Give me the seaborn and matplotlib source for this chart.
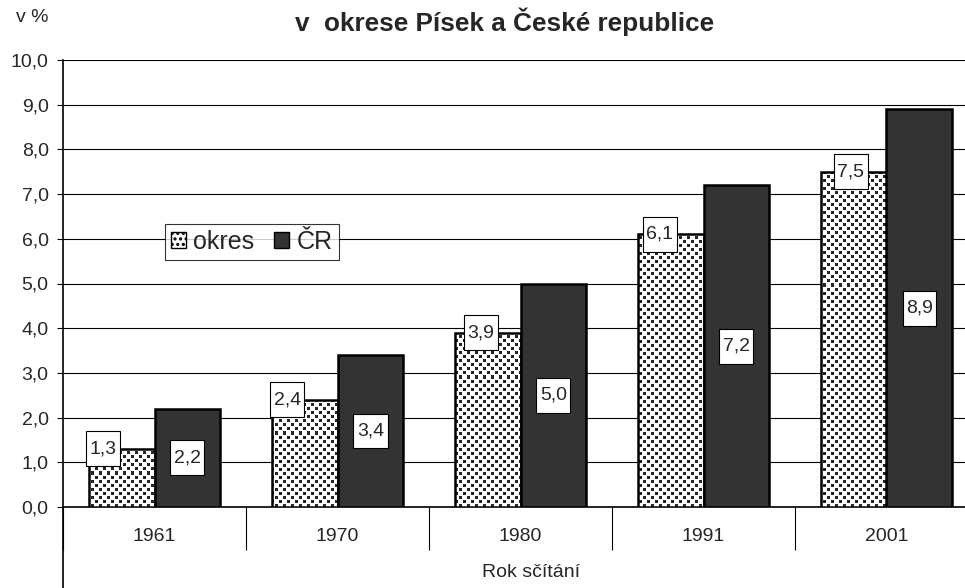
import numpy as np
import pandas as pd
import matplotlib
matplotlib.use('Agg')
import matplotlib.pyplot as plt
import seaborn as sns
from matplotlib.lines import Line2D
from matplotlib.path import Path
from matplotlib.colors import ListedColormap

# data
roky = ['1961', '1970', '1980', '1991', '2001']
okres = [1.3, 2.4, 3.9, 6.1, 7.5]
cr = [2.2, 3.4, 5.0, 7.2, 8.9]
serie = ['okres', 'ČR']
yticks = [0, 1, 2, 3, 4, 5, 6, 7, 8, 9, 10]

# where the district labels sit, measured from the left edge of the bar (in category units)
posun = [0.08, 0.085, 0.145, 0.12, 0.165]

dados = pd.DataFrame({
    'rok': roky * 2,
    'podil': okres + cr,
    'uzemi': [serie[0]] * len(roky) + [serie[1]] * len(roky),
})


# label box: narrow on the sides, taller top and bottom
def ramecek(x0, y0, width, height, mutation_size):
    px = 0.18 * mutation_size
    py = 0.46 * mutation_size
    x0, y0 = x0 - px, y0 - py
    x1, y1 = x0 + width + 2 * px, y0 + height + 2 * py
    return Path([(x0, y0), (x1, y0), (x1, y1), (x0, y1), (x0, y0)], closed=True)


sns.set_style('white')
plt.rcParams['font.family'] = ['Liberation Sans', 'DejaVu Sans']
plt.rcParams['hatch.color'] = '#2b2b2b'
plt.rcParams['hatch.linewidth'] = 1.5

fig = plt.figure(figsize=(9.65, 5.88), dpi=100)
ax = fig.add_axes([63 / 965, 81 / 588, 915 / 965, 447 / 588])

sns.barplot(data=dados, x='rok', y='podil', hue='uzemi', order=roky, hue_order=serie,
            palette=['white', '#333333'], width=0.72, gap=0, edgecolor='black',
            linewidth=1.8, saturation=1, legend=False, ax=ax, zorder=3)

# dotted texture for the district bars (small dark squares, staggered)
dlazdice = np.ones((8, 8))
dlazdice[0:3, 0:3] = 0
dlazdice[4:7, 4:7] = 0
textura = np.tile(dlazdice, (447 // 8 + 1, 915 // 8 + 1))[:447, :915]
for p in ax.containers[0]:
    p.set_facecolor('none')
    im = ax.imshow(textura, cmap=ListedColormap(['#262626', 'white']), vmin=0, vmax=1,
                   extent=(-0.5, 4.5, 0, 10), aspect='auto', interpolation='nearest', zorder=2.9)
    im.set_clip_path(p)

# value labels
box = dict(boxstyle=ramecek, fc='white', ec='black', lw=0.8)
for p, v, d in zip(ax.containers[0], okres, posun):
    ax.text(p.get_x() + d, v, f'{v:.1f}'.replace('.', ','), ha='center', va='center',
            fontsize=14, bbox=box, zorder=5)
for p, v in zip(ax.containers[1], cr):
    ax.text(p.get_x() + p.get_width() / 2, v / 2, f'{v:.1f}'.replace('.', ','),
            ha='center', va='center', fontsize=14, bbox=box, zorder=5)

# axes
ax.set_ylim(0, 10)
ax.set_xlim(-0.5, 4.5)
ax.set_yticks(yticks)
ax.set_yticklabels([f'{t:.1f}'.replace('.', ',') for t in yticks], fontsize=14)
ax.yaxis.grid(True, color='black', lw=0.8, zorder=0)
ax.set_axisbelow(True)
ax.tick_params(axis='y', length=4.3, width=0.8, color='black', direction='out', left=True, pad=6)
ax.set_xticks(range(len(roky)))
ax.set_xticklabels(roky, fontsize=14)
ax.set_xticks([i - 0.5 for i in range(len(roky) + 1)], minor=True)
ax.tick_params(axis='x', which='major', length=0, pad=15)
ax.tick_params(axis='x', which='minor', length=31, width=0.8, color='black', direction='out', bottom=True)
for s in ['top', 'right']:
    ax.spines[s].set_visible(False)
for s in ['left', 'bottom']:
    ax.spines[s].set_color('black')
    ax.spines[s].set_linewidth(1.2)
ax.add_line(Line2D([0, 0], [0, -0.2], transform=ax.transAxes, color='black', lw=1.2, clip_on=False))

ax.set_xlabel('Rok sčítání', fontsize=14)
ax.xaxis.set_label_coords(0.512, -0.128)
ax.set_ylabel('')

# legend
handles = [plt.Rectangle((0, 0), 1, 1, fc='white', ec='black', hatch='...'),
           plt.Rectangle((0, 0), 1, 1, fc='#333333', ec='black')]
leg = ax.legend(handles, serie, ncol=2, loc='center left', bbox_to_anchor=(0.111, 0.593),
                fontsize=18, frameon=True, fancybox=False, edgecolor='black',
                handlelength=0.6, handleheight=0.6, handletextpad=0.3, columnspacing=0.8,
                borderpad=0.25, borderaxespad=0)
leg.get_frame().set_linewidth(0.8)
leg.set_zorder(6)

fig.text(32 / 965, 1 - 17 / 588, 'v %', fontsize=14, ha='center', va='center')
fig.text(505 / 965, 1 - 22 / 588, 'v  okrese Písek a České republice', fontsize=18.8,
         fontweight='bold', ha='center', va='center')

plt.savefig('out.png', dpi=100)
